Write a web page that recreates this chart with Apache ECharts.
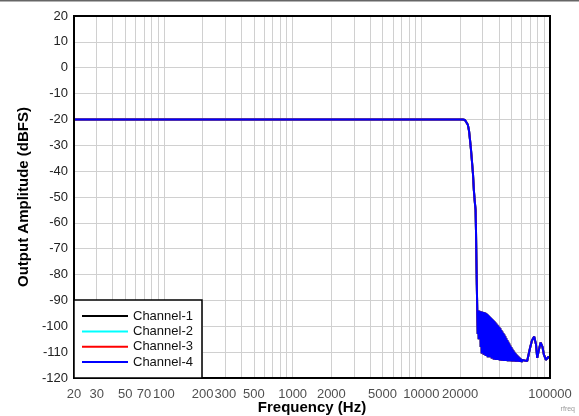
<!DOCTYPE html>
<html>
<head>
<meta charset="utf-8">
<script src="https://cdn.jsdelivr.net/npm/echarts@6/dist/echarts.min.js"></script>
<style>
html,body{margin:0;padding:0;background:#fff;}
#chart{width:579px;height:416px;}
</style>
</head>
<body>
<div id="chart"></div>
<script>
// ---- data ----
const channelNames = ['Channel-1', 'Channel-2', 'Channel-3', 'Channel-4'];
const channelColors = ['#000000', '#00ffff', '#ff0000', '#0000ff'];

// passband + transition (all four channels coincide)
const passFreq = [20, 50, 100, 200, 500, 1000, 2000, 5000, 10000, 15000, 20000, 21000, 21500, 21830, 22300, 23000, 23500, 23900, 24300, 24700, 25200, 25600, 26000, 26400, 26600, 26800, 27000];
const passDb   = [-20, -20, -20, -20, -20, -20, -20, -20, -20, -20, -20, -20, -20.05, -20.2, -20.8, -22.1, -24.5, -27.9, -31.5, -35.7, -41, -47.3, -51.5, -55, -63, -74.4, -84];

// stopband (dense ripple, then the tail bumps)
const stopFreq = [27200, 27445, 27690, 27940, 28190, 28445, 28700, 28960, 29220, 29485, 29750, 30020, 30290, 30560, 30830, 31110, 31390, 31675, 31960, 32250, 32540, 32835, 33130, 33425, 33720, 34025, 34330, 34640, 34950, 35270, 35590, 35910, 36230, 36555, 36880, 37215, 37550, 37890, 38230, 38575, 38920, 39270, 39620, 39980, 40340, 40705, 41070, 41440, 41810, 42190, 42570, 42950, 43330, 43725, 44120, 44515, 44910, 45320, 45730, 46140, 46550, 46970, 47390, 47820, 48250, 48685, 49120, 49565, 50010, 50460, 50910, 51370, 51830, 52300, 52770, 53245, 53720, 54205, 54690, 55185, 55680, 56185, 56690, 57200, 57710, 58230, 58750, 59280, 59810, 60355, 60900,
  62000, 63500, 65000, 66500, 67800, 69900, 72400, 75400, 77800, 79600, 82100, 84600, 87400, 89700, 93000, 97000, 100000];
const stopDbCh4 = [-93.7, -103, -93.9, -105, -94.0, -104.5, -94.2, -108, -94.3, -110.5, -94.4, -106, -94.5, -111, -94.6, -107.5, -94.8, -111.5, -95.0, -109, -95.3, -112, -95.6, -110, -96.0, -112, -96.4, -110.5, -96.8, -112.5, -97.2, -111.5, -97.6, -112.8, -98.0, -112, -98.4, -113, -98.9, -112.5, -99.4, -113, -99.8, -112.6, -100.3, -113.2, -100.8, -112.8, -101.4, -113.3, -102, -113, -102.6, -113.4, -103.2, -113.1, -103.9, -113.4, -104.6, -113.2, -105.3, -113.5, -106, -113.3, -106.7, -113.5, -107.4, -113.4, -108, -113.6, -108.7, -113.4, -109.3, -113.6, -109.9, -113.5, -110.4, -113.7, -110.8, -113.5, -111.2, -113.7, -111.6, -113.6, -112, -113.8, -112.3, -113.7, -112.7, -113.8, -113.0,
  -113.6, -113.2, -113.8, -113.4, -113, -108.5, -105.5, -104, -107, -112.2, -109, -106.3, -108, -111, -113, -111.8, -112.5];
// channels 1-3 are indistinguishable from channel 4 under it
const stopDbByChannel = [stopDbCh4, stopDbCh4, stopDbCh4, stopDbCh4];

// axis ticks
const xGridFreq = [20, 30, 40, 50, 60, 70, 80, 90, 100, 200, 300, 400, 500, 600, 700, 800, 900, 1000, 2000, 3000, 4000, 5000, 6000, 7000, 8000, 9000, 10000, 20000, 30000, 40000, 50000, 60000, 70000, 80000, 90000, 100000];
const xLabelFreq = [20, 30, 50, 70, 100, 200, 300, 500, 1000, 2000, 5000, 10000, 20000, 100000];
const yMin = -120, yMax = 20, yStep = 10;

// ---- build ----
function pairs(fx, vy) { return fx.map((f, i) => [f, vy[i]]); }

const chart = echarts.init(document.getElementById('chart'), null, {renderer: 'canvas'});
const font = 'Liberation Sans, Arial, Helvetica, sans-serif';

const series = [];
// vertical grid lines (log positions)
series.push({
  type: 'line', name: '_grid', data: [], silent: true, z: 1,
  markLine: {
    silent: true, symbol: ['none', 'none'], animation: false,
    lineStyle: {color: '#d0d0d0', width: 1, type: 'solid'},
    label: {show: false},
    data: xGridFreq.map(f => ({xAxis: f}))
  }
});
// x tick labels
series.push({
  type: 'scatter', name: '_xlabels', silent: true, z: 3, symbolSize: 0,
  clip: false,
  data: xLabelFreq.map(f => [f, yMin]),
  label: {show: true, position: 'bottom', distance: 10, color: '#222', fontSize: 13, fontFamily: font,
    formatter: p => String(p.value[0])}
});
channelNames.forEach((n, k) => {
  series.push({
    type: 'line', name: n, showSymbol: false, symbol: 'none', z: 5 + k,
    lineStyle: {color: channelColors[k], width: 2},
    itemStyle: {color: channelColors[k]},
    data: pairs(passFreq, passDb).concat(pairs(stopFreq, stopDbByChannel[k])),
    animation: false
  });
});

chart.setOption({
  animation: false,
  backgroundColor: '#ffffff',
  grid: {left: 74, right: 29, top: 16, bottom: 38, outerBoundsMode: 'none', containLabel: false,
    show: true, borderColor: '#000', borderWidth: 2, backgroundColor: 'transparent', z: 10},
  xAxis: {
    type: 'log', logBase: 10, min: 20, max: 100000,
    name: 'Frequency (Hz)', nameLocation: 'middle', nameGap: 22,
    nameTextStyle: {fontSize: 15, fontWeight: 'bold', color: '#000', fontFamily: font},
    axisLine: {show: false}, axisTick: {show: false}, axisLabel: {show: false},
    splitLine: {show: false}, minorTick: {show: false}
  },
  yAxis: {
    type: 'value', min: yMin, max: yMax, interval: yStep,
    name: 'Output Amplitude (dBFS)', nameLocation: 'middle', nameGap: 42,
    nameTextStyle: {fontSize: 15, fontWeight: 'bold', color: '#000', fontFamily: font},
    axisLine: {show: false}, axisTick: {show: false},
    axisLabel: {color: '#222', fontSize: 13, fontFamily: font, margin: 6},
    splitLine: {show: true, lineStyle: {color: '#d0d0d0', width: 1}}
  },
  legend: {
    data: channelNames, orient: 'vertical', left: 74, bottom: 38,
    backgroundColor: '#fff', borderColor: '#000', borderWidth: 1.5,
    padding: [9, 9, 9, 8], itemGap: 1.3, itemWidth: 46, itemHeight: 2, icon: 'rect',
    textStyle: {fontSize: 13, color: '#111', fontFamily: font, lineHeight: 14},
    selectedMode: false, z: 20
  },
  graphic: [
    {type: 'rect', left: 0, top: 0, shape: {width: 579, height: 1.5}, style: {fill: '#666'}, silent: true},
    {type: 'text', right: 4, bottom: 3, style: {text: 'rfreq', fontSize: 7, fill: '#999', fontFamily: font}, silent: true}
  ],
  series: series
});
</script>
</body>
</html>
